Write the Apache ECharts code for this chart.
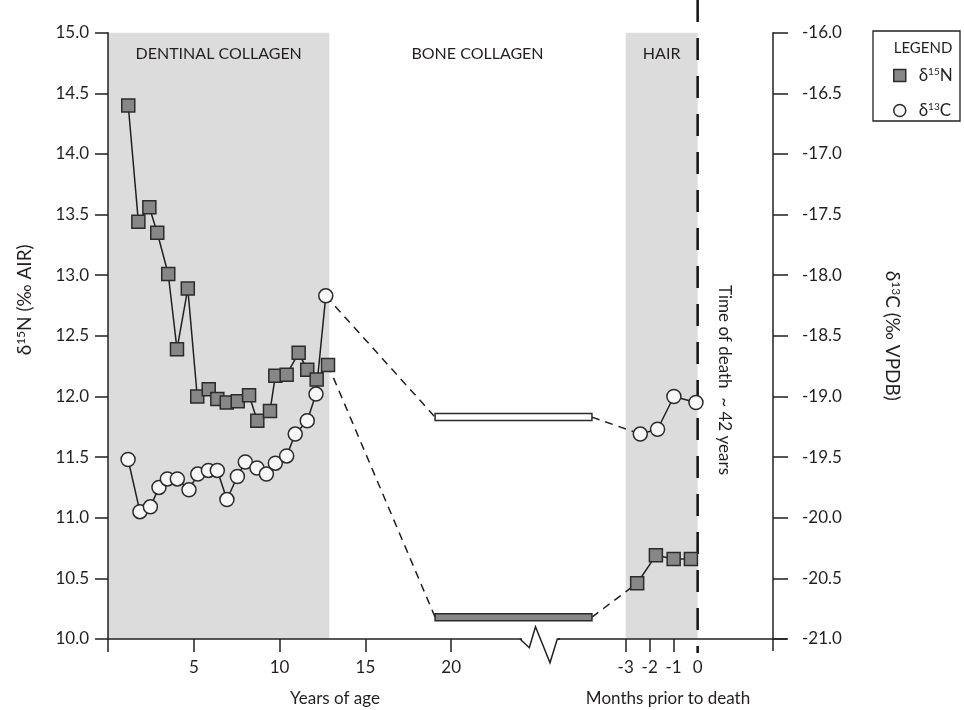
<!DOCTYPE html>
<html>
<head>
<meta charset="utf-8">
<title>Isotope profile</title>
<script src="https://cdn.jsdelivr.net/npm/echarts@6.0.0/dist/echarts.min.js"></script>
<style>
    html, body { margin: 0; padding: 0; background: #fff; }
    #chart { width: 964px; height: 710px; }
</style>
</head>
<body>
<div id="chart"></div>
<script>
'use strict';

// dentine increments, x = years of age
var dentineN15Age = [1.18, 1.77, 2.41, 2.87, 3.51, 4.02, 4.65, 5.20, 5.87, 6.37, 6.92, 7.56, 8.22, 8.70, 9.44, 9.75, 10.41, 11.11, 11.61, 12.16, 12.82];
var dentineN15 = [14.40, 13.44, 13.56, 13.35, 13.01, 12.39, 12.89, 12.00, 12.06, 11.98, 11.95, 11.96, 12.01, 11.80, 11.88, 12.17, 12.18, 12.36, 12.22, 12.14, 12.26];
var dentineC13Age = [1.17, 1.86, 2.47, 2.97, 3.46, 4.04, 4.72, 5.23, 5.85, 6.37, 6.93, 7.54, 8.00, 8.68, 9.23, 9.75, 10.41, 10.91, 11.61, 12.12, 12.69];
var dentineC13 = [-19.52, -19.95, -19.91, -19.75, -19.68, -19.68, -19.77, -19.64, -19.61, -19.61, -19.85, -19.66, -19.54, -19.59, -19.64, -19.55, -19.49, -19.31, -19.20, -18.98, -18.17];

// bone collagen: one value, drawn as a bar over the remodelling years
var boneAgeRange = [19.06, 28.2];
var boneN15 = 10.18;
var boneC13 = -19.17;

// hair segments, x = months prior to death
var hairN15Month = [-2.52, -1.74, -1.0, -0.28];
var hairN15 = [10.46, 10.69, 10.66, 10.66];
var hairC13Month = [-2.39, -1.67, -0.99, -0.07];
var hairC13 = [-19.31, -19.27, -19.00, -19.05];

// tissue periods
var periodNames = ['DENTINAL COLLAGEN', 'BONE COLLAGEN', 'HAIR'];
var dentineEndAge = 12.9;
var hairMonths = [-3, 0];

// axis ticks
var yearTicks = [0, 5, 10, 15, 20];
var yearLabels = [5, 10, 15, 20];
var monthTicks = [-3, -2, -1];
var monthLabels = [-3, -2, -1, 0];

// both x axes cover the same plot width
var YEAR_MAX = 38.75;
var MONTH_MIN = -24.57;
var MONTH_MAX = 3.14;

function monthToYear(m) {
    return (m - MONTH_MIN) / (MONTH_MAX - MONTH_MIN) * YEAR_MAX;
}

function pairs(xs, ys) {
    return xs.map(function (x, i) { return [x, ys[i]]; });
}

var ink = '#231f20';
var FONT = 'Lato';
var squareStyle = {color: '#878787', borderColor: '#2b2b2b', borderWidth: 1.5};
var circleStyle = {color: '#f7f7f7', borderColor: '#2b2b2b', borderWidth: 1.5};

var richTitle = {
    d: {fontSize: 19, fontFamily: FONT, color: ink},
    s: {fontSize: 12, fontFamily: FONT, color: ink, verticalAlign: 'top'}
};

function dashed(name, yIdx, p1, p2) {
    return {
        name: name, type: 'line', xAxisIndex: 0, yAxisIndex: yIdx,
        data: [p1, p2], symbol: 'none', silent: true, z: 2,
        lineStyle: {color: ink, width: 1.5, type: [8, 6]}
    };
}

function boneBar(name, yIdx, value, fill) {
    return {
        name: name, type: 'custom', xAxisIndex: 0, yAxisIndex: yIdx, z: 3,
        data: [[boneAgeRange[0], boneAgeRange[1], value]],
        encode: {x: [0, 1], y: 2},
        renderItem: function (params, api) {
            var a = api.coord([api.value(0), api.value(2)]);
            var b = api.coord([api.value(1), api.value(2)]);
            return {
                type: 'rect',
                shape: {x: a[0], y: a[1] - 3.5, width: b[0] - a[0], height: 7},
                style: {fill: fill, stroke: '#2b2b2b', lineWidth: 1.5}
            };
        }
    };
}

var axisLineStyle = {color: ink, width: 1.5};
var labelStyle = {fontSize: 17, color: ink, fontFamily: FONT};

var nLast = dentineN15.length - 1;
var cLast = dentineC13.length - 1;

var chart = echarts.init(document.getElementById('chart'));

var option = {
    animation: false,
    textStyle: {fontFamily: FONT, color: ink},
    grid: {left: 108, right: 191, top: 32.7, bottom: 71, containLabel: false, outerBoundsMode: 'none'},
    legend: {
        orient: 'vertical', left: 888, top: 62,
        itemWidth: 12, itemHeight: 12, itemGap: 18,
        data: [
            {name: 'δ15N', icon: 'rect', itemStyle: squareStyle},
            {name: 'δ13C', icon: 'circle', itemStyle: circleStyle}
        ],
        formatter: function (name) {
            return name === 'δ15N' ? '{d|δ}{s|15}{d|N}' : '{d|δ}{s|13}{d|C}';
        },
        textStyle: {
            padding: [0, 0, 0, 8],
            rich: {
                d: {fontSize: 17, fontFamily: FONT, color: ink},
                s: {fontSize: 10, fontFamily: FONT, color: ink, verticalAlign: 'top'}
            }
        }
    },
    xAxis: [{
        type: 'value', min: 0, max: YEAR_MAX, position: 'bottom', z: 10,
        splitLine: {show: false},
        axisLine: {show: true, onZero: false, lineStyle: axisLineStyle},
        axisTick: {show: true, length: 13, lineStyle: axisLineStyle, customValues: yearTicks},
        axisLabel: Object.assign({customValues: yearLabels, margin: 20}, labelStyle)
    }, {
        type: 'value', min: MONTH_MIN, max: MONTH_MAX, position: 'bottom', z: 10,
        splitLine: {show: false},
        axisLine: {show: false, onZero: false},
        axisTick: {show: true, length: 13, lineStyle: axisLineStyle, customValues: monthTicks},
        axisLabel: Object.assign({customValues: monthLabels, margin: 20}, labelStyle)
    }],
    yAxis: [{
        type: 'value', min: 10, max: 15, interval: 0.5, position: 'left', z: 10,
        name: '{d|δ}{s|15}{d|N (‰ AIR)}', nameLocation: 'middle', nameGap: 74, nameRotate: 90,
        nameTextStyle: {rich: richTitle, padding: [0, 0, 0, 72]},
        splitLine: {show: false},
        axisLine: {show: true, onZero: false, lineStyle: axisLineStyle},
        axisTick: {show: true, length: 13, lineStyle: axisLineStyle},
        axisLabel: Object.assign({margin: 19, formatter: function (v) { return v.toFixed(1); }}, labelStyle)
    }, {
        type: 'value', min: -21, max: -16, interval: 0.5, position: 'right', z: 10,
        name: '{d|δ}{s|13}{d|C (‰ VPDB)}', nameLocation: 'middle', nameGap: 110, nameRotate: -90,
        nameTextStyle: {rich: richTitle},
        splitLine: {show: false},
        axisLine: {show: true, onZero: false, lineStyle: axisLineStyle},
        axisTick: {show: true, length: 15, lineStyle: axisLineStyle},
        axisLabel: Object.assign({margin: 29, formatter: function (v) { return v.toFixed(1); }}, labelStyle)
    }],
    series: [
        {
            name: 'periods', type: 'line', xAxisIndex: 0, yAxisIndex: 0, data: [], z: 1, silent: true,
            markArea: {
                silent: true,
                label: {show: true, position: 'insideTop', distance: 13, fontSize: 16, color: ink, fontFamily: FONT},
                data: [
                    [{name: periodNames[0], xAxis: 0, itemStyle: {color: '#dcdcdc'}}, {xAxis: dentineEndAge}],
                    [{name: periodNames[1], xAxis: dentineEndAge, itemStyle: {color: 'rgba(0,0,0,0)'}}, {xAxis: monthToYear(hairMonths[0])}]
                ]
            }
        },
        {
            name: 'hairPeriod', type: 'line', xAxisIndex: 1, yAxisIndex: 0, data: [], z: 1, silent: true,
            markArea: {
                silent: true,
                label: {show: true, position: 'insideTop', distance: 13, fontSize: 16, color: ink, fontFamily: FONT},
                data: [
                    [{name: periodNames[2], xAxis: hairMonths[0], itemStyle: {color: '#dcdcdc'}}, {xAxis: hairMonths[1]}]
                ]
            }
        },
        dashed('linkN1', 0, [dentineN15Age[nLast], dentineN15[nLast]], [boneAgeRange[0], boneN15]),
        dashed('linkN2', 0, [boneAgeRange[1], boneN15], [monthToYear(hairN15Month[0]), hairN15[0]]),
        dashed('linkC1', 1, [dentineC13Age[cLast], dentineC13[cLast]], [boneAgeRange[0], boneC13]),
        dashed('linkC2', 1, [boneAgeRange[1], boneC13], [monthToYear(hairC13Month[0]), hairC13[0]]),
        boneBar('boneN', 0, boneN15, '#878787'),
        boneBar('boneC', 1, boneC13, '#ffffff'),
        {
            name: 'δ15N', type: 'line', xAxisIndex: 0, yAxisIndex: 0, z: 4,
            data: pairs(dentineN15Age, dentineN15),
            symbol: 'rect', symbolSize: 13, itemStyle: squareStyle,
            lineStyle: {color: ink, width: 1.5}
        },
        {
            name: 'δ13C', type: 'line', xAxisIndex: 0, yAxisIndex: 1, z: 4,
            data: pairs(dentineC13Age, dentineC13),
            symbol: 'circle', symbolSize: 14, itemStyle: circleStyle,
            lineStyle: {color: ink, width: 1.5}
        },
        {
            name: 'δ15N', type: 'line', xAxisIndex: 1, yAxisIndex: 0, z: 4,
            data: pairs(hairN15Month, hairN15),
            symbol: 'rect', symbolSize: 13, itemStyle: squareStyle,
            lineStyle: {color: ink, width: 1.5}
        },
        {
            name: 'δ13C', type: 'line', xAxisIndex: 1, yAxisIndex: 1, z: 4,
            data: pairs(hairC13Month, hairC13),
            symbol: 'circle', symbolSize: 14, itemStyle: circleStyle,
            lineStyle: {color: ink, width: 1.5}
        }
    ]
};

chart.setOption(option);

// decorations placed from the axes once they exist
var deathX = chart.convertToPixel({xAxisIndex: 1}, 0);
var axisY = chart.convertToPixel({yAxisIndex: 0}, 10);
var rightX = chart.convertToPixel({xAxisIndex: 1}, MONTH_MAX);

function text(str, x, y, size, rot) {
    return {
        type: 'text', x: x, y: y, rotation: rot || 0, z: 20, silent: true,
        style: {
            text: str, fill: ink, font: size + 'px ' + FONT,
            align: 'center', verticalAlign: 'middle',
            textAlign: 'center', textVerticalAlign: 'middle'
        }
    };
}

chart.setOption({
    graphic: [
        // time of death marker, under the markers
        {
            type: 'line', z: 3, silent: true,
            shape: {x1: deathX, y1: 0, x2: deathX, y2: axisY + 14},
            style: {stroke: '#111', lineWidth: 2.5, lineDash: [22, 16]}
        },
        text('Time of death  ~ 42 years', deathX + 27, 380, 17, -Math.PI / 2),
        // axis titles
        text('Years of age', 335, 699, 17),
        text('Months prior to death', 668, 699, 17),
        // bottom axis runs a little past the right axis
        {
            type: 'line', z: 15, silent: true,
            shape: {x1: rightX, y1: axisY, x2: rightX + 14, y2: axisY},
            style: {stroke: ink, lineWidth: 1.5}
        },
        {
            type: 'line', z: 15, silent: true,
            shape: {x1: rightX, y1: axisY, x2: rightX, y2: axisY + 12},
            style: {stroke: ink, lineWidth: 1.5}
        },
        // axis break
        {
            type: 'rect', z: 20, silent: true,
            shape: {x: 522, y: axisY - 3, width: 36, height: 6},
            style: {fill: '#fff'}
        },
        {
            type: 'polyline', z: 21, silent: true,
            shape: {points: [[520, axisY], [529.3, axisY + 8.7], [535.5, axisY - 12.3], [550, axisY + 23.7], [557.3, axisY], [560, axisY]]},
            style: {stroke: ink, lineWidth: 1.5, fill: null}
        },
        // legend frame
        {
            type: 'rect', z: 1, silent: true,
            shape: {x: 873, y: 31, width: 87, height: 90},
            style: {fill: 'rgba(0,0,0,0)', stroke: ink, lineWidth: 1.3}
        },
        text('LEGEND', 923, 48, 15)
    ]
});
</script>
</body>
</html>
